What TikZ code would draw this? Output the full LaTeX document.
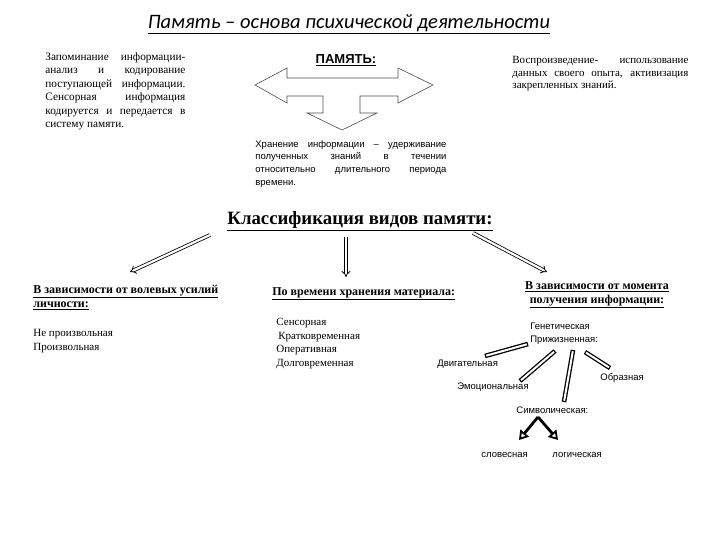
\documentclass[tikz,border=0pt]{standalone}
\usepackage{fontspec}
\setmainfont{Liberation Serif}
\newfontfamily\arialfont{Liberation Sans}
\newfontfamily\calibrifont{Carlito}
\usetikzlibrary{arrows.meta}

\begin{document}
\begin{tikzpicture}[x=1pt, y=-1pt, line width=0.8pt,
    txt/.style={inner sep=0pt, anchor=north west, align=justify, font=\fontsize{11.3}{13.5}\selectfont},
    hdr/.style={inner sep=0pt, font=\fontsize{12}{13.5}\selectfont\bfseries},
    itm/.style={inner sep=0pt, anchor=west, font=\fontsize{11}{13.5}\selectfont},
    sans/.style={inner sep=0pt, anchor=west, font=\arialfont\fontsize{9.5}{12}\selectfont},
    dbl/.style={double, double distance=2.2pt, line width=0.8pt, -{Implies}},
    vtip/.style={line width=2.8pt, -{Triangle[open, length=9pt, width=11pt, line width=1.8pt]}}]

  \useasboundingbox (0,0) rectangle (720,540);

  \node (title) at (349,24) {\calibrifont\itshape\fontsize{20.5}{24}\selectfont\underline{Память – основа психической деятельности}};

  % three-way arrow
  \draw[line width=0.6pt, black!70] (255,85) -- (287,68) -- (287,78) -- (398,78) -- (398,68) -- (433,85)
    -- (398,103) -- (398,96) -- (360,96) -- (360,113) -- (377,113) -- (342,130) -- (307,113)
    -- (323,113) -- (323,96) -- (287,96) -- (287,103) -- cycle;
  \node (pamyat) at (346,60) {\arialfont\bfseries\fontsize{13}{15}\selectfont\underline{ПАМЯТЬ:}};

  \node[txt, text width=140pt] (zapom) at (45,52) {Запоминание информации-\linebreak
    анализ и кодирование\linebreak поступающей информации.\linebreak
    Сенсорная информация\linebreak кодируется и передается в\linebreak систему памяти.};
  \node[txt, text width=176pt, font=\fontsize{11}{12.5}\selectfont] (vospr) at (512,56) {Воспроизведение- использование\linebreak
    данных своего опыта, активизация\linebreak закрепленных знаний.};
  \node[txt, text width=191pt, font=\arialfont\fontsize{9.5}{12.7}\selectfont] (hran) at (255,140) {Хранение информации – удерживание\linebreak
    полученных знаний в течении\linebreak относительно длительного периода\linebreak времени.};

  \node (klass) at (360,221) {\fontsize{18.8}{21}\selectfont\bfseries\underline{Классификация видов памяти:}};

  \coordinate (kl) at (210,235);
  \coordinate (kle) at (130,272);
  \coordinate (km) at (346,237);
  \coordinate (kme) at (346,277);
  \coordinate (kr) at (473,233);
  \coordinate (kre) at (547,272);
  \draw[dbl] (kl) -- (kle);
  \draw[dbl] (km) -- (kme);
  \draw[dbl] (kr) -- (kre);

  \node[hdr, anchor=north west, align=left] (volev) at (33,285) {\underline{В зависимости от волевых усилий}\\\underline{личности:}};
  \node[itm] (neproizv) at (33,334) {Не произвольная};
  \node[itm] (proizv) at (33,348) {Произвольная};

  \node[hdr, anchor=west] (vremya) at (272,294) {\underline{По времени хранения материала:}};
  \node[itm] (sensor) at (276,323) {Сенсорная};
  \node[itm] (kratko) at (278,337) {Кратковременная};
  \node[itm] (operat) at (276,350) {Оперативная};
  \node[itm] (dolgo) at (276,364) {Долговременная};

  \node[hdr, align=center] (moment) at (597,295) {\underline{В зависимости от момента}\\\underline{получения информации:}};
  \node[sans] (genet) at (530,326) {Генетическая};
  \node[sans] (prizh) at (530,340) {Прижизненная:};
  \node[sans] (dvig) at (437,364) {Двигательная};
  \node[sans] (emoc) at (457,387) {Эмоциональная};
  \node[sans] (obraz) at (600,378) {Образная};
  \node[sans] (simv) at (516,410) {Символическая:};
  \node[sans] (slov) at (481,455) {словесная};
  \node[sans] (logich) at (552,455) {логическая};

  \coordinate (b1) at (528,344);
  \coordinate (b2) at (555,351);
  \coordinate (b3) at (573,350);
  \coordinate (b4) at (585,352);
  \coordinate (e1) at (485,356);
  \coordinate (e2) at (520,381);
  \coordinate (e3) at (564,402);
  \coordinate (e4) at (610,368);
  \foreach \i in {1,...,4} {
    \draw[line width=4.6pt] (b\i) -- (e\i);
    \draw[white, line width=2pt, shorten <=1.3pt, shorten >=1.3pt] (b\i) -- (e\i);
  }

  \coordinate (apex) at (538,417);
  \draw[vtip] (apex) -- (519,440);
  \draw[vtip] (apex) -- (558,440);

\end{tikzpicture}
\end{document}
